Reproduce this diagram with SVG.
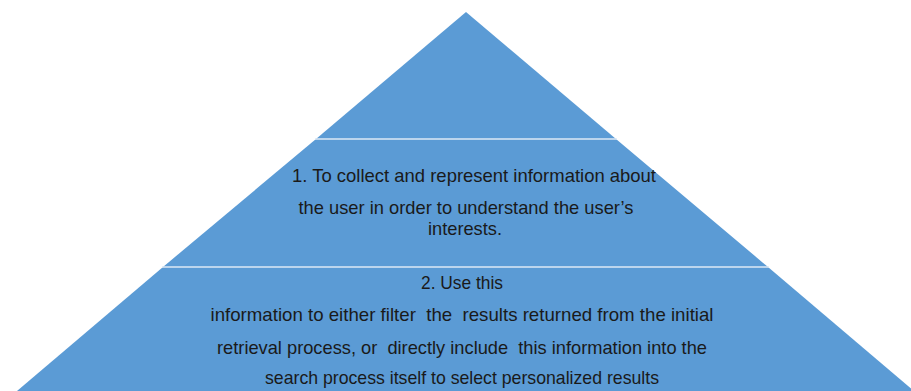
<svg xmlns="http://www.w3.org/2000/svg" width="911" height="391" viewBox="0 0 911 391">
  <style>
    .tier { fill: #5B9BD5; }
    .divider { stroke: #DCE8F5; stroke-width: 1.5; }
    .label { font-family: "Liberation Sans", Arial, sans-serif; font-size: 19px; fill: #1A1A1A; text-anchor: middle; white-space: pre; }
  </style>
  <rect width="911" height="391" fill="#FFFFFF"/>

  <!-- Top tier (apex) -->
  <g id="tier-top">
    <polygon class="tier" points="466,12 616,139 316,139"/>
  </g>

  <!-- Middle tier -->
  <g id="tier-middle">
    <polygon class="tier" points="316,139 616,139 768,267 163,267"/>
    <text class="label" x="474" y="182" textLength="364" lengthAdjust="spacingAndGlyphs">1. To collect and represent information about</text>
    <text class="label" x="466" y="214" textLength="335" lengthAdjust="spacingAndGlyphs">the user in order to understand the user’s</text>
    <text class="label" x="465" y="235" textLength="74" lengthAdjust="spacingAndGlyphs">interests.</text>
  </g>

  <!-- Bottom tier -->
  <g id="tier-bottom">
    <polygon class="tier" points="163,267 768,267 914,391 17,391"/>
    <text class="label" x="462" y="289" textLength="82" lengthAdjust="spacingAndGlyphs">2. Use this</text>
    <text class="label" x="462" y="321" textLength="503" lengthAdjust="spacingAndGlyphs" xml:space="preserve">information to either filter  the  results returned from the initial</text>
    <text class="label" x="462" y="354" textLength="490" lengthAdjust="spacingAndGlyphs" xml:space="preserve">retrieval process, or  directly include  this information into the</text>
    <text class="label" x="462" y="384" textLength="394" lengthAdjust="spacingAndGlyphs">search process itself to select personalized results</text>
  </g>

  <!-- Dividers between tiers -->
  <g id="connectors">
    <line class="divider" x1="315" y1="139" x2="617" y2="139"/>
    <line class="divider" x1="162" y1="267" x2="769" y2="267"/>
  </g>
</svg>
